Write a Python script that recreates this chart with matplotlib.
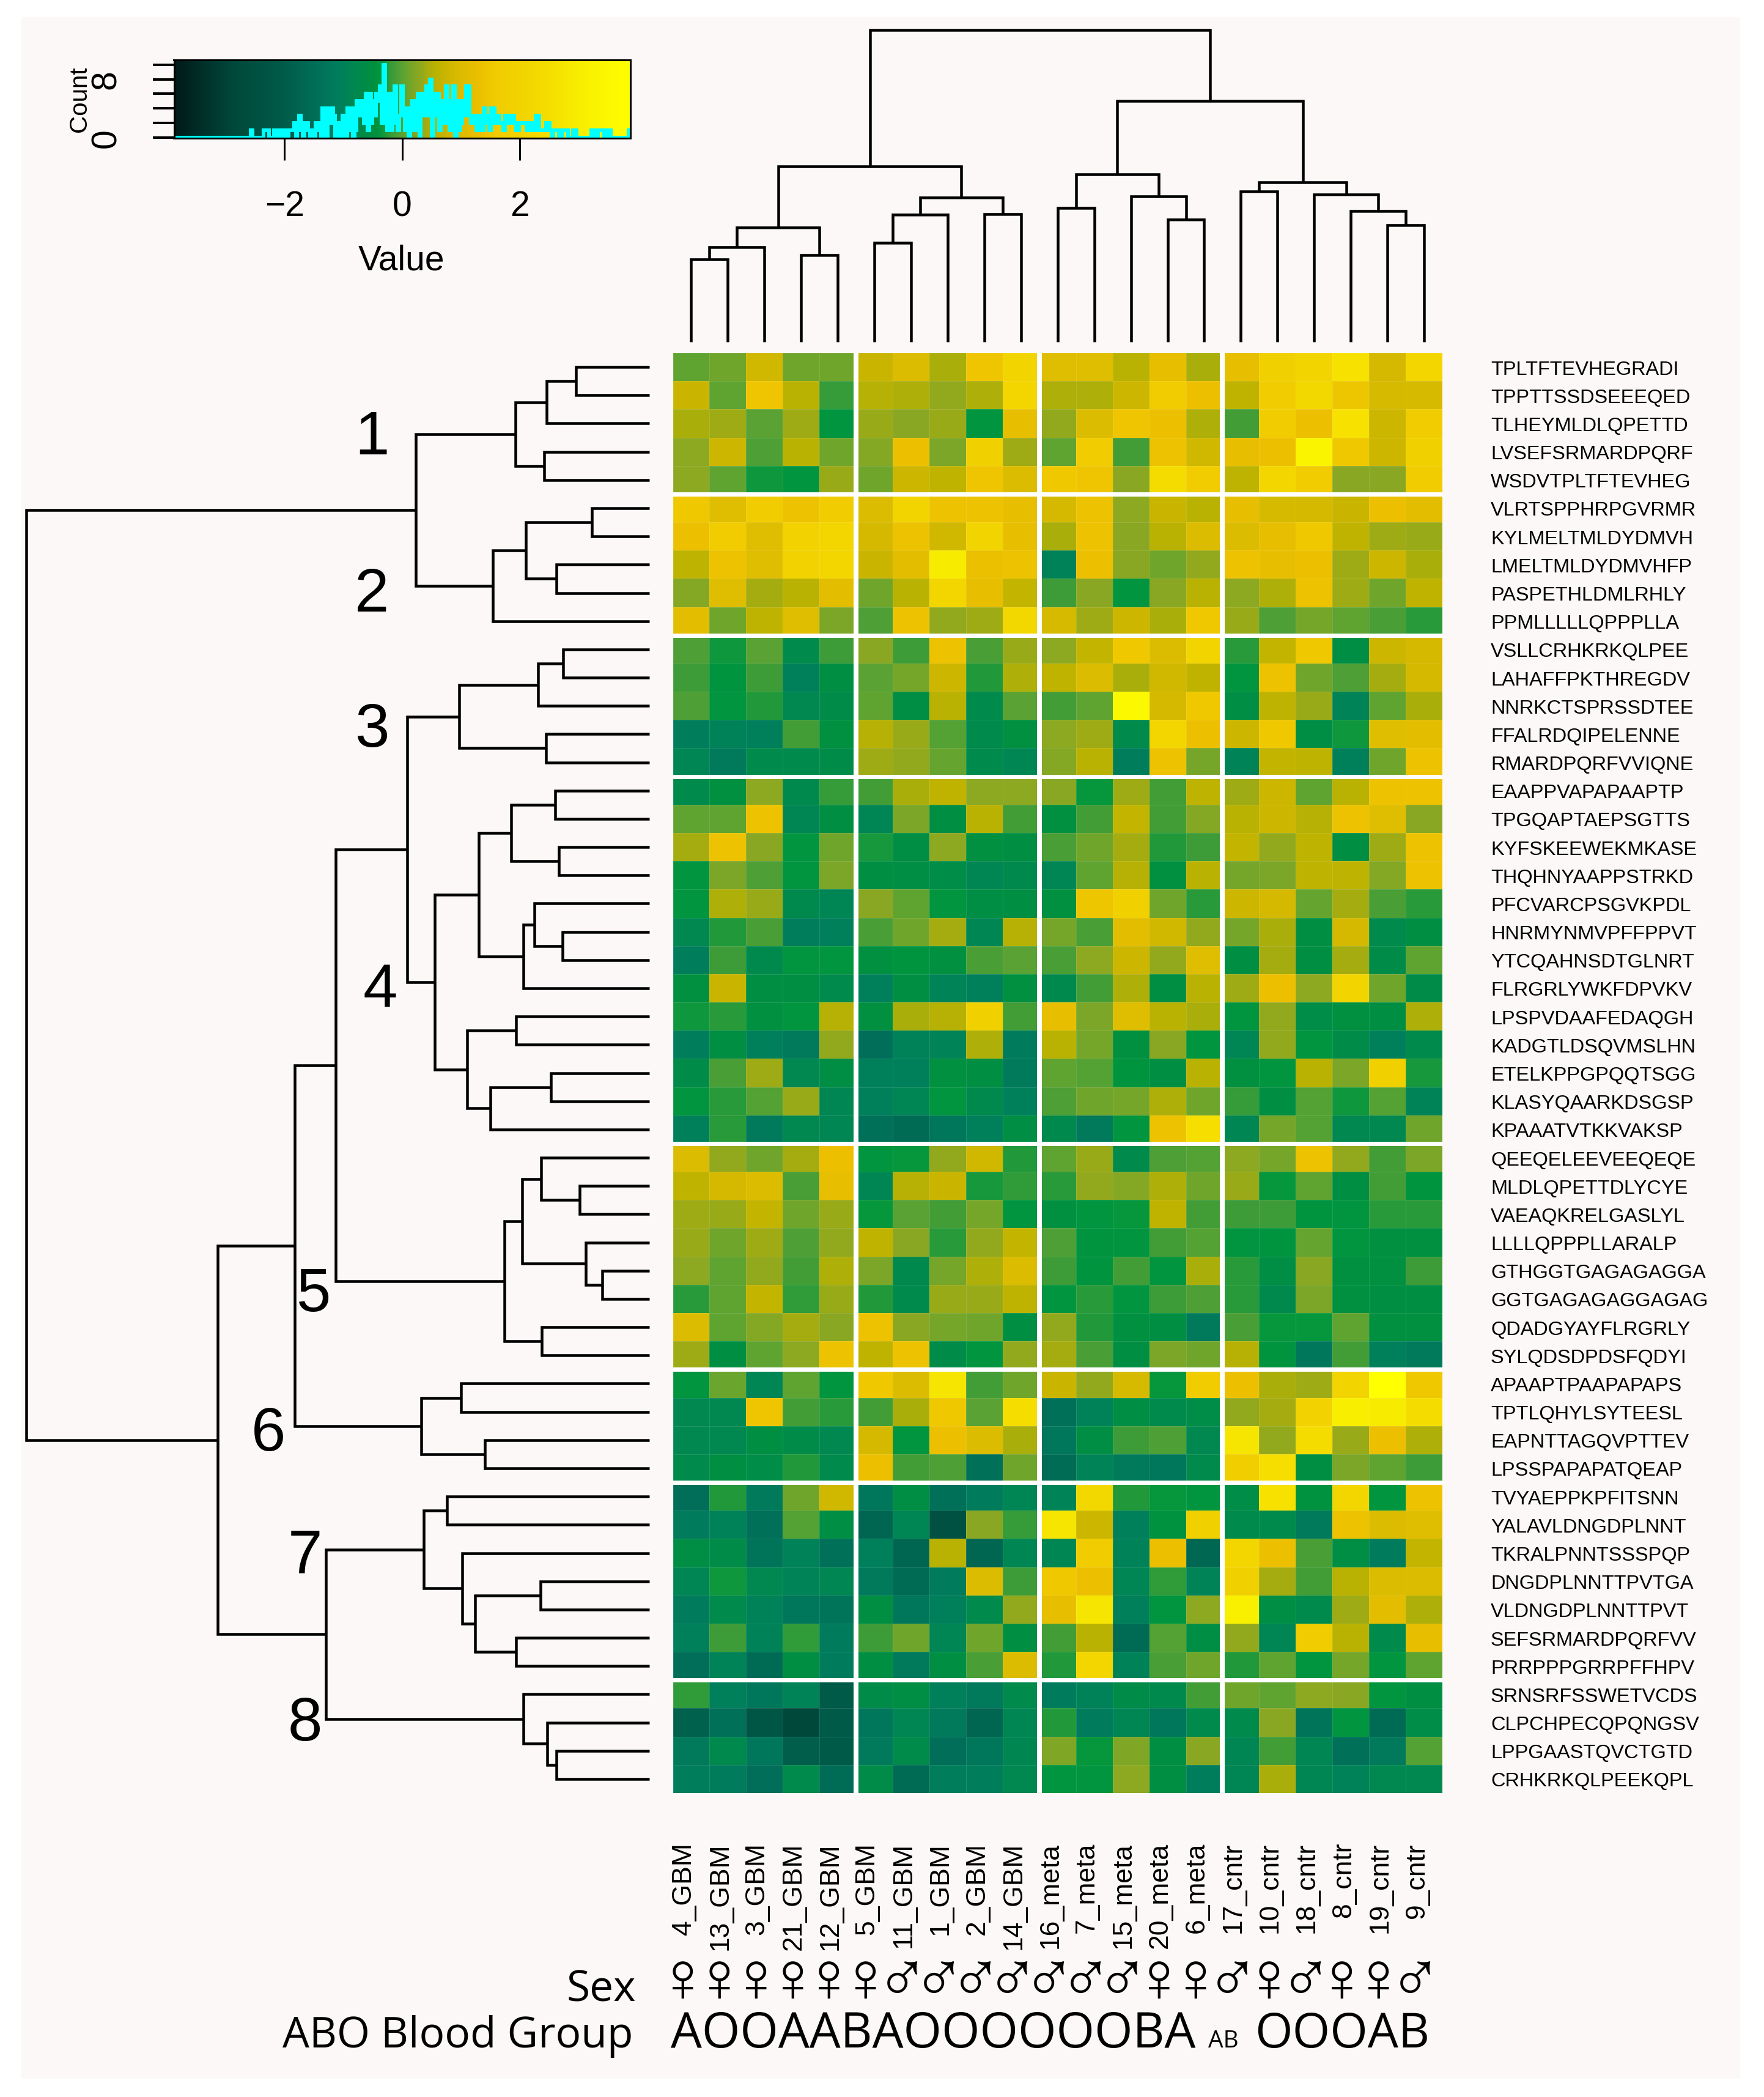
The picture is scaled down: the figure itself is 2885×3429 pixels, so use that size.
import numpy as np
import matplotlib
matplotlib.use('Agg')
import matplotlib.pyplot as plt
from matplotlib.colors import LinearSegmentedColormap
from matplotlib.patches import Rectangle

plt.rcParams['font.family'] = ['Liberation Sans', 'DejaVu Sans']

# peptides, top to bottom
peptides = ['TPLTFTEVHEGRADI', 'TPPTTSSDSEEEQED', 'TLHEYMLDLQPETTD', 'LVSEFSRMARDPQRF', 'WSDVTPLTFTEVHEG',
            'VLRTSPPHRPGVRMR', 'KYLMELTMLDYDMVH', 'LMELTMLDYDMVHFP', 'PASPETHLDMLRHLY', 'PPMLLLLLQPPPLLA',
            'VSLLCRHKRKQLPEE', 'LAHAFFPKTHREGDV', 'NNRKCTSPRSSDTEE', 'FFALRDQIPELENNE', 'RMARDPQRFVVIQNE',
            'EAAPPVAPAPAAPTP', 'TPGQAPTAEPSGTTS', 'KYFSKEEWEKMKASE', 'THQHNYAAPPSTRKD', 'PFCVARCPSGVKPDL',
            'HNRMYNMVPFFPPVT', 'YTCQAHNSDTGLNRT', 'FLRGRLYWKFDPVKV', 'LPSPVDAAFEDAQGH', 'KADGTLDSQVMSLHN',
            'ETELKPPGPQQTSGG', 'KLASYQAARKDSGSP', 'KPAAATVTKKVAKSP', 'QEEQELEEVEEQEQE', 'MLDLQPETTDLYCYE',
            'VAEAQKRELGASLYL', 'LLLLQPPPLLARALP', 'GTHGGTGAGAGAGGA', 'GGTGAGAGAGGAGAG', 'QDADGYAYFLRGRLY',
            'SYLQDSDPDSFQDYI', 'APAAPTPAAPAPAPS', 'TPTLQHYLSYTEESL', 'EAPNTTAGQVPTTEV', 'LPSSPAPAPATQEAP',
            'TVYAEPPKPFITSNN', 'YALAVLDNGDPLNNT', 'TKRALPNNTSSSPQP', 'DNGDPLNNTTPVTGA', 'VLDNGDPLNNTTPVT',
            'SEFSRMARDPQRFVV', 'PRRPPPGRRPFFHPV', 'SRNSRFSSWETVCDS', 'CLPCHPECQPQNGSV', 'LPPGAASTQVCTGTD',
            'CRHKRKQLPEEKQPL']

samples = ['4_GBM', '13_GBM', '3_GBM', '21_GBM', '12_GBM', '5_GBM', '11_GBM', '1_GBM', '2_GBM', '14_GBM',
           '16_meta', '7_meta', '15_meta', '20_meta', '6_meta',
           '17_cntr', '10_cntr', '18_cntr', '8_cntr', '19_cntr', '9_cntr']
sex = ['\u2640'] * 6 + ['\u2642'] * 7 + ['\u2640', '\u2640', '\u2642', '\u2640', '\u2642', '\u2640', '\u2640', '\u2642']
blood_groups = ['A', 'O', 'O', 'A', 'A', 'B', 'A', 'O', 'O', 'O', 'O', 'O', 'O', 'B', 'A', 'AB', 'O', 'O', 'O', 'A', 'B']

cluster_1 = [
    [0.0, .1, .8, .1, .1, .7, 1.0, .45, 1.4, 2.0, 1.05, 1.05, .55, 1.2, .45, 1.2, 1.8, 2.0, 2.6, .85, 2.1],
    [.7, 0.0, 1.4, .55, -.2, .52, .47, .33, .48, 2.1, .47, .48, .75, 1.6, 1.3, .62, 1.6, 2.2, 1.45, .9, .9],
    [.43, .38, -.03, .38, -.4, .35, .27, .34, -.4, 1.2, .33, 1.0, 1.4, 1.3, .47, -.15, 1.6, 1.3, 2.6, .75, 1.6],
    [.28, .75, -.08, .55, .1, .22, 1.3, .17, 1.8, .37, 0.0, 1.6, -.15, 1.35, .8, 1.2, 1.3, 3.3, 1.5, .75, 1.8],
    [.3, 0.0, -.35, -.4, .35, .1, .75, .62, 1.4, 1.0, 1.5, 1.4, .25, 2.4, 1.6, .58, 2.1, 1.6, .27, .26, 1.6],
]
cluster_2 = [
    [1.5, 1.05, 1.6, 1.35, 1.6, 1.0, 2.0, 1.35, 1.35, 1.2, .85, 1.35, .3, .7, .55, 1.2, .88, .85, .7, 1.3, 1.1],
    [1.3, 1.6, 1.05, 1.9, 2.1, .85, 1.35, .8, 2.0, 1.2, .45, 1.35, .26, .55, 1.0, 1.0, 1.2, 1.5, .62, .38, .34],
    [.58, 1.35, 1.05, 1.9, 2.1, .7, 1.1, 2.9, 1.25, 1.35, -1.0, 1.3, .26, .1, .33, 1.35, 1.2, 1.3, .37, .75, .45],
    [.22, 1.05, .42, .56, 1.1, .12, .56, 2.1, 1.2, .66, -.18, .25, -.4, .26, .56, .28, .48, 1.35, .37, .11, .62],
    [1.12, .11, .6, 1.05, .17, -.08, 1.35, .31, .39, 2.2, .9, .38, .75, .45, 1.5, .34, -.08, .15, .03, -.1, -.25],
]
cluster_3 = [
    [-.08, -.35, -.03, -.7, -.18, .27, -.16, 1.35, -.1, .35, .3, .64, 1.5, 1.0, 2.0, -.25, .66, 1.5, -.6, .75, .85],
    [-.18, -.45, -.17, -1.05, -.55, -.02, .15, .75, -.3, .47, .62, 1.0, .45, .8, .62, -.4, 1.35, .1, -.09, .4, .85],
    [-.08, -.4, -.3, -.8, -.65, 0.0, -.6, .56, -.7, -.02, -.14, .01, 3.5, .85, 1.5, -.6, .58, .34, -.95, 0.0, .45],
    [-1.1, -1.0, -1.05, -.15, -.5, .52, .34, -.06, -.7, -.5, .28, .39, -.7, 2.1, 1.3, .75, 1.5, -.6, -.35, 1.05, 1.1],
    [-.9, -1.2, -.7, -.7, -.65, .38, .31, .05, -.72, -.85, .24, .55, -1.1, 1.35, .14, -.95, .66, .58, -1.05, .11, 1.35],
]
cluster_4 = [
    [-.7, -.5, .28, -.75, -.2, -.14, .43, .62, .3, .3, .27, -.37, .38, -.15, .58, .38, .75, 0.0, .56, 1.35, 1.35],
    [0.0, 0.0, 1.35, -.85, -.55, -.9, .17, -.55, .56, -.13, -.5, -.15, .66, -.15, .22, .55, .75, .52, 1.35, 1.05, .26],
    [.4, 1.35, .26, -.4, .1, -.32, -.6, .28, -.5, -.55, -.1, .1, .4, -.28, -.16, .66, .32, .58, -.55, .38, 1.35],
    [-.4, .17, -.08, -.42, .17, -.55, -.6, -.62, -.85, -.75, -.9, 0.0, .52, -.5, .56, .15, .16, .6, .58, .22, 1.35],
    [-.4, .47, .34, -.75, -.9, .27, 0.0, -.4, -.58, -.55, -.5, 1.45, 1.8, .1, -.25, .75, .85, .05, .4, -.1, -.25],
    [-.8, -.28, -.1, -1.1, -1.05, -.11, .11, .4, -.85, .52, .14, -.1, 1.1, .8, .32, .14, .45, -.52, .85, -.7, -.55],
    [-1.1, -.18, -.75, -.42, -.42, -.5, -.45, -.5, -.1, -.03, -.1, .28, .75, .31, 1.05, -.55, .42, -.55, .42, -.65, .01],
    [-.5, .7, -.55, -.55, -.72, -1.05, -.55, -.95, -1.05, -.5, -.75, -.15, .47, -.55, .55, .38, 1.3, .29, 2.0, .11, -.65],
    [-.35, -.25, -.5, -.4, .52, -.5, .43, .52, 1.8, -.15, 1.2, .17, 1.05, .55, .45, -.4, .31, -.62, -.5, -.55, .47],
    [-1.1, -.55, -1.05, -1.2, .31, -1.5, -1.0, -.95, .48, -1.15, .55, .14, -.5, .25, -.42, -.9, .32, -.4, -.65, -1.05, -.72],
    [-.65, -.1, .37, -.8, -.6, -1.05, -1.05, -.5, -.55, -1.2, 0.0, -.05, -.45, -.52, .56, -.5, -.4, .55, .17, 1.8, -.33],
    [-.4, -.25, -.05, .34, -.85, -1.05, -.9, -.42, -.75, -1.05, -.08, .1, .14, .48, .1, -.2, -.55, -.05, -.35, -.05, -.95],
    [-1.05, -.25, -1.2, -.8, -.85, -1.45, -1.6, -1.25, -1.05, -.6, -.75, -1.2, -.42, 1.35, 2.5, -.85, .15, -.05, -.8, -.8, .11],
]
cluster_5 = [
    [1.0, .32, .1, .4, 1.3, -.42, -.38, .31, .8, -.3, 0.0, .34, -.7, -.08, -.05, .28, .14, 1.35, .31, -.13, .17],
    [.62, .85, 1.0, -.1, 1.2, -.85, .52, .7, -.33, -.22, -.25, .32, .22, .48, .1, .34, -.38, .01, -.55, -.13, -.45],
    [.38, .35, .66, .12, .34, -.38, -.02, -.13, .14, -.42, -.5, -.42, -.38, .62, -.13, -.16, -.16, -.45, -.4, -.25, -.25],
    [.35, .11, .37, -.08, .31, .62, .25, -.25, .31, .66, -.08, -.45, -.42, -.13, -.05, -.42, -.45, .05, -.42, -.5, -.5],
    [.28, 0.0, .32, -.13, .48, .17, -.75, .14, .48, 1.0, -.16, -.45, -.13, -.42, .45, -.25, -.6, .25, -.5, -.5, -.16],
    [-.25, 0.0, .66, -.22, .34, -.3, -.72, .34, .34, .6, -.42, -.25, -.42, -.16, -.08, -.25, -.75, .17, -.5, -.55, -.55],
    [1.0, 0.0, .22, .4, .26, 1.35, .26, .14, .12, -.55, .31, -.28, -.5, -.55, -1.2, -.1, -.38, -.38, 0.0, -.5, -.5],
    [.38, -.55, .01, .3, 1.35, .62, 1.35, -.65, -.42, .31, .4, -.1, -.55, .17, .11, .52, -.45, -1.25, -.13, -1.05, -1.2],
]
cluster_6 = [
    [-.42, .08, -.9, 0.0, -.42, 1.5, 1.0, 2.7, -.13, .12, .7, .31, .9, -.38, 1.6, 1.3, .45, .38, 2.0, 3.85, 1.5],
    [-.8, -.8, 1.4, -.15, -.25, -.15, .45, 1.5, -.02, 2.45, -1.45, -1.0, -.6, -.72, -.62, .32, .4, 1.9, 3.0, 2.9, 2.4],
    [-.8, -.8, -.55, -.65, -.8, .85, -.42, 1.3, 1.0, .45, -1.25, -.58, -.16, -.08, -.8, 2.7, .32, 2.4, .35, 1.3, .48],
    [-.72, -.55, -.62, -.28, -.72, 1.3, -.13, -.08, -1.45, .1, -1.55, -.95, -1.2, -1.25, -.72, 1.7, 2.5, -.55, .17, .03, -.18],
]
cluster_7 = [
    [-1.5, -.3, -1.2, .12, .8, -1.25, -.6, -1.45, -1.15, -.9, -.95, 2.2, -.3, -.38, -.42, -.62, 2.6, -.48, 2.1, -.42, 1.35],
    [-1.15, -1.0, -1.45, -.05, -.6, -1.75, -.9, -2.5, .26, -.2, 2.7, .75, -1.05, -.48, 1.8, -.7, -.72, -1.2, 1.35, 1.0, 1.05],
    [-.6, -.65, -1.35, -1.0, -1.45, -1.05, -1.75, .56, -1.75, -.85, -.85, 1.6, -1.0, 1.3, -1.7, 2.1, 1.3, -.1, -.6, -1.15, .66],
    [-.9, -.36, -.8, -.95, -.85, -1.2, -1.6, -1.15, 1.0, -.18, 1.5, 1.3, -.9, -.22, -.95, 1.8, .4, -.15, .55, 1.0, 1.0],
    [-1.15, -.7, -1.0, -1.3, -1.35, -.55, -1.3, -1.05, -.72, .32, 1.2, 2.7, -1.05, -.4, .29, 3.1, -.58, -.72, .37, 1.1, .48],
    [-1.05, -.18, -1.0, -.22, -1.15, -.18, .11, -.9, .11, -.55, -.13, .56, -1.6, -.05, -.58, .31, -.9, 1.6, .56, -.7, 1.2],
    [-1.5, -.95, -1.6, -.55, -1.15, -.55, -1.2, -.55, -.1, 1.0, -.3, 2.1, -1.0, -.1, .11, -.3, 0.0, -.42, .14, -.42, 0.0],
]
cluster_8 = [
    [-.22, -1.05, -1.25, -.95, -2.1, -.65, -.6, -1.05, -1.2, -.72, -1.15, -1.0, -.65, -.75, -.15, .1, 0.0, .28, .25, -.42, -.55],
    [-1.9, -1.45, -2.3, -2.9, -2.1, -1.25, -.85, -1.2, -1.75, -.85, -.3, -1.15, -.85, -1.3, -.72, -.7, .26, -1.35, -.42, -1.6, -.62],
    [-1.2, -.75, -1.3, -2.0, -2.1, -1.2, -.68, -1.5, -1.25, -.82, .2, -.38, .2, -.55, .26, -.85, -.15, -.85, -1.45, -1.2, -.05],
    [-1.1, -1.15, -1.5, -.72, -1.55, -.65, -1.6, -1.1, -1.1, -.8, -.42, -.42, .29, -.55, -1.1, -.9, .45, -.85, -1.0, -.8, -.8],
]

# dendrograms: (height in px from the leaves, left branch, right branch), leaves are row/column numbers
row_tree_1 = (219, (168, (120, 0, 1), 2), (172, 3, 4))
row_tree_2 = (256, (202, (94, 5, 6), (152, 7, 8)), 9)
row_tree_3 = (311, (182, (141, 10, 11), 12), (169, 13, 14))
row_tree_4 = (351, (279.5, (226, (154, 15, 16), (148, 17, 18)), (206, (188, 19, (142, 20, 21)), 22)),
              (298, (218, 23, 24), (260, (161, 25, 26), 27)))
row_tree_5 = (237, (208.5, (177, 28, (114, 29, 30)), (104, 31, (77, 32, 33))), (176, 34, 35))
row_tree_6 = (373, (308.5, 36, 37), (269, 38, 39))
row_tree_7 = (369, (331.5, 40, 41), (306.5, 42, (285, (178, 43, 44), (218, 45, 46))))
row_tree_8 = (206.5, 47, (167, 48, (152, 49, 50)))
row_tree = (1019, (382, row_tree_1, row_tree_2),
            (706, (580, (513, (396, row_tree_3, row_tree_4), row_tree_5), row_tree_6),
             (529, row_tree_7, row_tree_8)))

col_tree_gbm = (287, (187, (155, (135, 0, 1), 2), (142.5, 3, 4)),
                (236.4, (208, (162, 5, 6), 7), (209, 8, 9)))
col_tree_meta = (274, (219, 10, 11), (238, 12, (200, 13, 14)))
col_tree_cntr = (261.4, (246.4, 15, 16), (241, 17, (214, 18, (191, 19, 20))))
col_tree = (510, col_tree_gbm, (394, col_tree_meta, col_tree_cntr))

# colour key histogram, counts per bin from -3.88 to 3.88
hist_counts = [0, 0, 0, 0, 0, 0, 0, 0, 0, 0, 0, 0, 0, 0, 0, 0, 0, 0, 0, 0,
               0, 0, 0, 0, 0, 0, 0, 0, 0, 0, 0, 0, 0, 0, 0, 0, 0, 0, 0, 0,
               0, 0, 0, 1, 0, 0, 0, 0, 0, 0, 1, 1, 1, 0, 0, 0, 1, 0, 0, 1,
               0, 1, 1, 0, 1, 1, 1, 2, 0, 1, 3, 1, 0, 2, 2, 1, 0, 1, 0, 2,
               1, 2, 0, 4, 3, 0, 4, 2, 4, 3, 0, 2, 1, 0, 3, 2, 0, 4, 1, 4,
               0, 1, 5, 3, 5, 4, 2, 6, 1, 6, 2, 5, 3, 6, 5, 7, 2, 10, 3, 1,
               6, 1, 5, 7, 2, 1, 3, 7, 3, 1, 4, 0, 4, 5, 1, 3, 6, 0, 3, 6,
               3, 7, 3, 8, 0, 6, 3, 6, 1, 5, 5, 2, 7, 5, 1, 5, 7, 0, 5, 1,
               2, 5, 3, 7, 7, 3, 2, 3, 3, 1, 3, 3, 1, 4, 3, 2, 1, 4, 4, 2,
               3, 3, 2, 2, 1, 3, 3, 2, 3, 3, 2, 1, 1, 2, 2, 2, 2, 1, 2, 2,
               1, 1, 3, 3, 1, 1, 1, 1, 2, 2, 1, 0, 1, 1, 1, 0, 0, 1, 1, 1,
               0, 0, 0, 1, 1, 0, 0, 0, 0, 0, 0, 0, 0, 1, 1, 0, 0, 1, 1, 1,
               0, 0, 1, 1, 0, 0, 0, 0, 0, 0, 0, 0, 0, 0, 1]

value_stops = [-3.88, -2.9, -2.1, -1.5, -1.1, -.8, -.5, -.4, -.25, -.1, 0, .15, .3, .45, .6, .75, 1, 1.3, 1.6, 2, 2.5, 3, 3.88]
colour_stops = ['#001a1a', '#00483a', '#005a48', '#006e58', '#007e5c', '#008850', '#009040', '#00963e', '#2c9a3a',
                '#4a9e36', '#5ca332', '#78a628', '#8fa820', '#acae0a', '#beb300', '#ccb600', '#dcbc00', '#ecc000',
                '#f0cc00', '#f2d400', '#f5de00', '#f8ee00', '#ffff00']
vmin, vmax = value_stops[0], value_stops[-1]
cmap = LinearSegmentedColormap.from_list(
    'key', [((v - vmin) / (vmax - vmin), c) for v, c in zip(value_stops, colour_stops)], N=256)

W, H = 2885, 3430
DPI = 100
px = 72.0 / DPI


def pixel_axes(fig, left, top, right, bottom):
    return fig.add_axes([left / W, 1 - bottom / H, (right - left) / W, (bottom - top) / H])


def draw_tree(ax, node, vertical):
    if not isinstance(node, tuple):
        return node + 0.5, 0
    h, a, b = node
    pa, ha = draw_tree(ax, a, vertical)
    pb, hb = draw_tree(ax, b, vertical)
    xs, ys = [pa, pa, pb, pb], [ha, h, h, hb]
    if vertical:
        ax.plot(xs, ys, color='black', lw=4.5 * px, solid_joinstyle='miter', solid_capstyle='butt', clip_on=False)
    else:
        ax.plot(ys, xs, color='black', lw=4.5 * px, solid_joinstyle='miter', solid_capstyle='butt', clip_on=False)
    return (pa + pb) / 2, h


fig = plt.figure(figsize=(W / DPI, H / DPI), dpi=DPI, facecolor='white')

# page background, free text is placed on this one in pixels
bg = fig.add_axes([0, 0, 1, 1], zorder=-1)
bg.set_xlim(0, W)
bg.set_ylim(H, 0)
bg.axis('off')
bg.add_patch(Rectangle((35, 29), 2811, 3371, color='#fbf8f7', lw=0))

# heatmap
values = np.vstack([cluster_1, cluster_2, cluster_3, cluster_4, cluster_5, cluster_6, cluster_7, cluster_8])
nrow, ncol = values.shape
hm_left, hm_top, hm_right, hm_bottom = 1100.5, 578, 2359, 2933
ax = pixel_axes(fig, hm_left, hm_top, hm_right, hm_bottom)
ax.pcolormesh(values, cmap=cmap, vmin=vmin, vmax=vmax, edgecolors=(1, 1, 1, 0.12), linewidth=0.7)
ax.set_xlim(0, ncol)
ax.set_ylim(nrow, 0)
for s in ax.spines.values():
    s.set_visible(False)
for c in [5, 10, 15]:
    ax.axvline(c, color='white', lw=8 * px)
for r in [5, 10, 15, 28, 36, 40, 47]:
    ax.axhline(r, color='white', lw=7 * px)

cell_w = (hm_right - hm_left) / ncol
ax.set_xticks(np.arange(ncol) + 0.5 - 12 / cell_w)
ax.set_xticklabels(samples, rotation=90, fontsize=32)
ax.set_yticks(np.arange(nrow) + 0.5)
ax.set_yticklabels(peptides, fontsize=23.4)
ax.yaxis.tick_right()
ax.tick_params(axis='x', length=0, pad=80 * px)
ax.tick_params(axis='y', length=0, pad=79 * px)

# dendrograms
left_ax = pixel_axes(fig, 35, hm_top, 1062, hm_bottom)
left_ax.set_xlim(1027, 0)
left_ax.set_ylim(nrow, 0)
left_ax.axis('off')
draw_tree(left_ax, row_tree, False)

top_ax = pixel_axes(fig, hm_left, 29, hm_right, 560)
top_ax.set_xlim(0, ncol)
top_ax.set_ylim(0, 531)
top_ax.axis('off')
draw_tree(top_ax, col_tree, True)

# cluster numbers
cluster_names = ['1', '2', '3', '4', '5', '6', '7', '8']
name_x = [608, 608, 608, 622, 513, 439, 499, 499]
name_y = [717, 974, 1195, 1622, 2118, 2346, 2547, 2820]
for t, x, y in zip(cluster_names, name_x, name_y):
    bg.text(x, y, t, fontsize=73, ha='center', va='center')

# sex and blood group rows
for i, s in enumerate(sex):
    bg.text(hm_left + (i + 0.5) * cell_w - 14, 3243, s, fontsize=84, ha='center', va='center', family='Liberation Sans')
bg.text(1040, 3273, 'Sex', fontsize=50, ha='right', va='baseline', family='Open Sans')
bg.text(1035, 3348, 'ABO Blood Group', fontsize=50, ha='right', va='baseline', family='Open Sans')
bg.text(1097, 3348, ''.join(blood_groups[:15]), fontsize=58, ha='left', va='baseline', family='Open Sans')
bg.text(1976, 3348, blood_groups[15], fontsize=28, ha='left', va='baseline', family='Open Sans')
bg.text(2052, 3348, ''.join(blood_groups[16:]), fontsize=57, ha='left', va='baseline', family='Open Sans')

# colour key
key = pixel_axes(fig, 284.5, 99, 1031, 227)
key.imshow(np.linspace(vmin, vmax, 256)[None, :], cmap=cmap, vmin=vmin, vmax=vmax, aspect='auto',
           extent=[vmin, vmax, -0.11, 10.65], interpolation='bilinear')
key.stairs(hist_counts, np.linspace(vmin, vmax, len(hist_counts) + 1), baseline=None, color='cyan', lw=6 * px)
key.set_xlim(vmin, vmax)
key.set_ylim(-0.11, 10.65)
for s in key.spines.values():
    s.set_linewidth(3 * px)
key.set_xticks([-2, 0, 2])
key.set_xticklabels(['\u22122', '0', '2'], fontsize=41)
key.set_yticks([0, 2, 4, 6, 8, 10])
key.set_yticklabels(['0', '', '', '', '8', ''], fontsize=41, rotation=90, va='center')
key.tick_params(axis='x', length=36 * px, width=3 * px, pad=48 * px)
key.tick_params(axis='y', length=35 * px, width=4 * px, pad=48 * px)
bg.text(657, 427, 'Value', fontsize=41, ha='center', va='center')
bg.text(130, 162, 'Count', fontsize=29, rotation=90, ha='center', va='center')

fig.savefig('out.png', dpi=DPI, facecolor='white')
